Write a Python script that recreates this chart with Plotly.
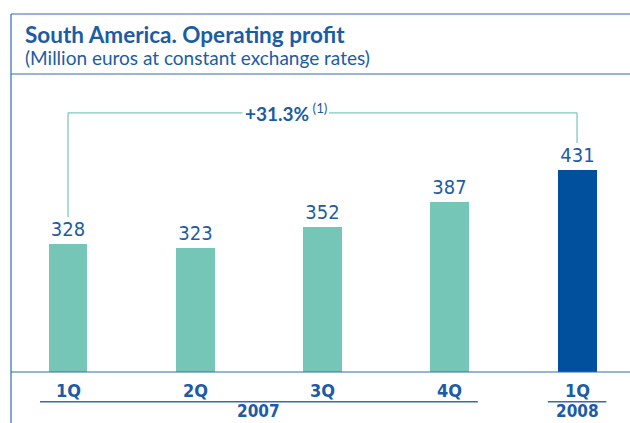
import plotly.graph_objects as go

# Quarterly operating profit, South America (million euros, constant FX)
quarters = ["1Q", "2Q", "3Q", "4Q", "1Q"]
years = ["2007", "2007", "2007", "2007", "2008"]
profit = [328, 323, 352, 387, 431]
growth_label = "+31.3%"
growth_note = "(1)"

TEAL = "#76c6b8"
NAVY = "#00509e"
TEXT = "#1c5ca5"
FRAME = "#2e6db0"
NARROW = "Liberation Sans Narrow, DejaVu Sans Condensed, Arial Narrow, sans-serif"
HEAD = "Lato, Open Sans, sans-serif"

xs = list(range(len(profit)))
colors = [NAVY if y == years[-1] else TEAL for y in years]

fig = go.Figure()
fig.add_trace(go.Bar(
    x=xs, y=profit, width=0.306,
    marker=dict(color=colors, line=dict(width=0)),
    text=[str(v) for v in profit], textposition="outside",
    textfont=dict(family=NARROW, size=20, color=TEXT),
    cliponaxis=False, hoverinfo="skip",
))

# bracket linking first and last quarter
top = 511
first, last = xs[0], xs[-1]
bracket = dict(type="line", line=dict(color="#7fcabd", width=1.3), layer="below")
fig.add_shape(x0=first, x1=first, y0=profit[0] + 38, y1=top, **bracket)
fig.add_shape(x0=last, x1=last, y0=profit[-1] + 38, y1=top, **bracket)
fig.add_shape(x0=first, x1=1.37, y0=top, y1=top, **bracket)
fig.add_shape(x0=2.05, x1=last, y0=top, y1=top, **bracket)
fig.add_annotation(x=1.71, y=top, xref="x", yref="y", showarrow=False,
                   text=f"<b>{growth_label}</b><sup style='font-size:9px'> {growth_note}</sup>",
                   font=dict(family=HEAD, size=19, color=TEXT), xanchor="center", yanchor="middle")

# quarter labels under the axis
for x, q in zip(xs, quarters):
    fig.add_annotation(x=x, y=-0.02, xref="x", yref="paper", yanchor="top", showarrow=False,
                       text=q, font=dict(family=NARROW, size=18, color=TEXT, weight=600))

# year groups with underline
groups = {}
for x, y in zip(xs, years):
    groups.setdefault(y, []).append(x)
for y, members in groups.items():
    lo, hi = min(members), max(members)
    pad = 0.22 if lo != hi else 0.23
    fig.add_shape(type="line", xref="x", yref="paper", x0=lo - pad, x1=hi + pad,
                  y0=-0.1, y1=-0.1, line=dict(color=FRAME, width=1.5))
    fig.add_annotation(x=(lo + hi) / 2, y=-0.171, xref="x", yref="paper", yanchor="bottom",
                       showarrow=False, text=y,
                       font=dict(family=NARROW, size=17, color=TEXT, weight=600))

# header frame
frame = dict(type="line", xref="paper", yref="paper", line=dict(color=FRAME, width=1.2))
fig.add_shape(x0=0, x1=1.02, y0=1.2013, y1=1.2013, **frame)
fig.add_shape(x0=0, x1=1.02, y0=1.0, y1=1.0, **frame)
fig.add_shape(x0=0, x1=0, y0=-0.2, y1=1.2013, **frame)
fig.add_shape(x0=0, x1=1.02, y0=0, y1=0, **frame)

fig.add_annotation(x=0.019, y=1.186, xref="paper", yref="paper", xanchor="left", yanchor="top",
                   showarrow=False, text="<b>South America. Operating profit</b>",
                   font=dict(family=HEAD, size=22.5, color=TEXT))
fig.add_annotation(x=0.019, y=1.1, xref="paper", yref="paper", xanchor="left", yanchor="top",
                   showarrow=False, text="(Million euros at constant exchange rates)",
                   font=dict(family=HEAD, size=19, color=TEXT))

fig.update_layout(
    width=630, height=423,
    margin=dict(l=11, r=0, t=74, b=51),
    paper_bgcolor="white", plot_bgcolor="white",
    showlegend=False, bargap=0,
    xaxis=dict(range=[-0.448, 4.416], visible=False, fixedrange=True),
    yaxis=dict(range=[150, 565], visible=False, fixedrange=True),
)
fig.write_html("out.html")
